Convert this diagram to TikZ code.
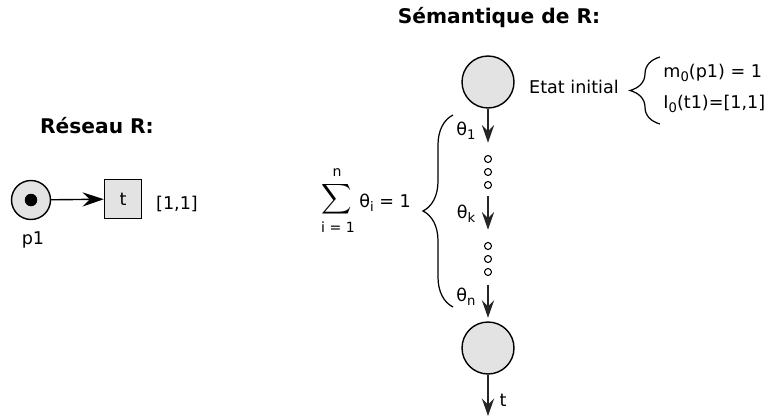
\documentclass[tikz,border=0pt]{standalone}
\usepackage{amsmath}
\usepackage{fontspec}
\setmainfont{DejaVu Sans}
\usetikzlibrary{positioning,arrows.meta,decorations.pathreplacing}

\newcommand\indice[1]{\raisebox{-0.45ex}{\fontsize{7.5}{9}\selectfont #1}}

\begin{document}
\begin{tikzpicture}[
  x=0.02cm, y=-0.02cm,
  >={Stealth[length=10pt,width=7pt,inset=3.5pt]},
  line width=0.8pt,
  title/.style={font=\fontsize{11.5}{13}\selectfont\bfseries},
  lbl/.style={font=\fontsize{10}{12}\selectfont,inner sep=1pt},
  petit/.style={font=\fontsize{8}{9}\selectfont,inner sep=0.5pt},
  place/.style={circle,draw,fill=gray!22,minimum size=1.04cm,inner sep=0pt},
  smallplace/.style={place,minimum size=0.78cm},
  token/.style={circle,fill=black,minimum size=0.25cm,inner sep=0pt},
  trans/.style={draw,fill=gray!22,minimum width=0.74cm,minimum height=0.78cm,inner sep=0pt,font=\fontsize{10}{12}\selectfont},
  dot/.style={circle,draw,fill=white,minimum size=0.14cm,inner sep=0pt,line width=0.6pt},
  arc/.style={->,draw=black!85},
  brace/.style={decorate,decoration={brace,amplitude=#1},line width=0.7pt}
]
\useasboundingbox (0,0) rectangle (768,419);

% titles
\node[title] (titreR) at (97,126) {Réseau R:};
\node[title] (titreS) at (499,18) {Sémantique de R:};

% reseau R
\node[smallplace] (p1) at (31,200) {};
\node[token] (tok) at (p1) {};
\node[lbl] (lp1) at (33,240) {p1};
\node[trans] (t) at (123,199) {t};
\node[lbl] (int) at (177,204) {[1,1]};
\draw[->,>={Stealth[length=12pt,width=8pt,inset=4pt]}] (p1) -- (t);

% semantique
\node[place] (s0) at (488,82) {};
\node[place] (s1) at (488,348) {};
\foreach \i/\y in {1/159,2/172,3/185,4/246,5/259,6/272}
  \node[dot] (d\i) at (488,\y) {};
\coordinate (fin) at (488,416);

\draw[arc,shorten >=7pt] (s0) -- (d1);
\draw[arc,shorten <=4pt,shorten >=7pt] (d3) -- (d4);
\draw[arc,shorten <=5pt,shorten >=2pt] (d6) -- (s1);
\draw[arc] (s1) -- (fin);

\node[lbl] (th1) at (466,131) {θ\indice{1}};
\node[lbl] (thk) at (466,214) {θ\indice{k}};
\node[lbl] (thn) at (466,297) {θ\indice{n}};
\node[lbl] (lt) at (503,400) {t};

% etat initial
\node[lbl] (ei) at (574,87) {Etat initial};
\draw[brace=0.6cm] (660,124) -- (660,57);
\node[lbl,anchor=west] (m0) at (661,73) {m\indice{0}(p1) = 1};
\node[lbl,anchor=west] (i0) at (661,104) {I\indice{0}(t1)=[1,1]};

% somme
\draw[brace=0.6cm] (453,307) -- (453,115);
\node[inner sep=0pt,font=\fontsize{13}{15}\selectfont] (sig) at (337,199) {$\displaystyle\sum$};
\node[petit] (sn) at (337,173) {n};
\node[petit] (si) at (338,227) {i = 1};
\node[lbl] (sth) at (385,203) {θ\indice{i} = 1};
\end{tikzpicture}
\end{document}
